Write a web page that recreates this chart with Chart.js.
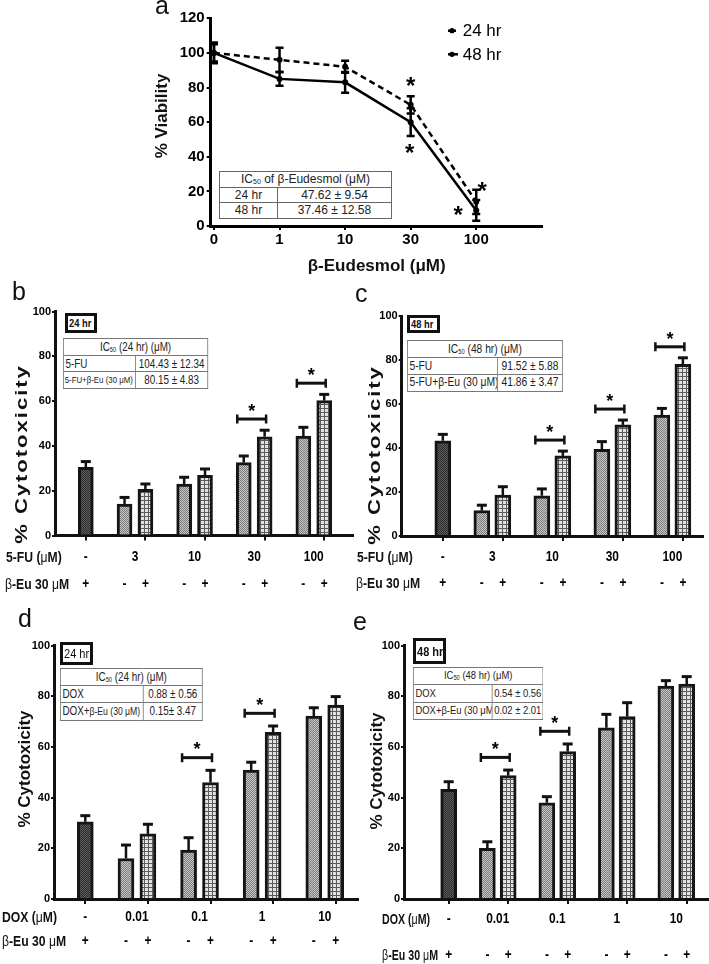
<!DOCTYPE html>
<html><head><meta charset="utf-8">
<script src="https://cdn.jsdelivr.net/npm/chart.js@4.4.1/dist/chart.umd.min.js"></script>
<style>
html,body{margin:0;padding:0;background:#fff;}
#root{position:relative;width:709px;height:964px;overflow:hidden;font-family:'Liberation Sans',Arial,sans-serif;color:#111;}
canvas{position:absolute;}
.t{position:absolute;line-height:1;white-space:nowrap;}
.c{transform:translate(-50%,-50%);}
.l{transform:translate(0,-50%) scaleX(0.87);transform-origin:left center;}
.l.tight{transform:translate(0,-50%) scaleX(0.76);}
.rot{transform:translate(-50%,-50%) rotate(-90deg);font-weight:bold;font-size:17px;}
.rot.wide{transform:translate(-50%,-50%) rotate(-90deg) scaleX(1.3);letter-spacing:1.5px;}
.letter{font-size:25px;}
.nb{font-weight:bold;font-size:14px;}
.nb .s{font-weight:normal;}
table.ic{position:absolute;border-collapse:collapse;table-layout:fixed;background:#fff;transform:scaleX(0.82);transform-origin:left top;}
table.ic td{border:1px solid #777;padding:0 2px;line-height:1;color:#222;white-space:nowrap;overflow:hidden;}
table.ic sub{font-size:7px;vertical-align:-1px;line-height:0;}
table.ia{position:absolute;border-collapse:collapse;table-layout:fixed;background:#fff;}
table.ia td{border:1px solid #666;padding:0 2px;line-height:1;color:#222;white-space:nowrap;overflow:hidden;}
table.ia sub{font-size:7px;vertical-align:-1px;line-height:0;}
.box{position:absolute;border:3px solid #111;box-sizing:border-box;font-weight:bold;display:flex;align-items:center;padding-left:1px;background:#fff;line-height:1;white-space:nowrap;overflow:hidden;}
.sx{display:inline-block;transform:scaleX(0.85);transform-origin:left center;}
</style>
</head><body><div id="root">
<canvas id="cA" width="420" height="300" style="left:140px;top:0px;width:420px;height:300px"></canvas>
<canvas id="cB" width="360" height="300" style="left:0px;top:300px;width:360px;height:300px"></canvas>
<canvas id="cC" width="359" height="300" style="left:350px;top:300px;width:359px;height:300px"></canvas>
<canvas id="cD" width="360" height="349" style="left:0px;top:615px;width:360px;height:349px"></canvas>
<canvas id="cE" width="359" height="349" style="left:350px;top:615px;width:359px;height:349px"></canvas>

<!-- panel letters -->
<div class="t letter" style="left:155px;top:-7px">a</div>
<div class="t letter" style="left:12px;top:279px">b</div>
<div class="t letter" style="left:355px;top:281px">c</div>
<div class="t letter" style="left:18px;top:606px">d</div>
<div class="t letter" style="left:353px;top:609px">e</div>

<!-- axis titles -->
<div class="t rot" style="left:160.5px;top:116px">% Viability</div>
<div class="t c" style="left:376.7px;top:265px;font-weight:bold;font-size:17px">β-Eudesmol (μM)</div>
<div class="t rot wide" style="left:21px;top:453.5px">% Cytotoxicity</div>
<div class="t rot wide" style="left:373.5px;top:454.5px">% Cytotoxicity</div>
<div class="t rot" style="left:24px;top:769px">% Cytotoxicity</div>
<div class="t rot" style="left:375.8px;top:770.5px">% Cytotoxicity</div>

<!-- row headers -->
<div class="t l nb" style="left:6px;top:557.3px">5-FU (<span class="s">μ</span>M)</div>
<div class="t l nb" style="left:5px;top:584px"><span class="s">β</span>-Eu 30 <span class="s">μ</span>M</div>
<div class="t l nb" style="left:356.7px;top:557.3px">5-FU (<span class="s">μ</span>M)</div>
<div class="t l nb" style="left:356px;top:583.3px"><span class="s">β</span>-Eu 30 <span class="s">μ</span>M</div>
<div class="t l nb" style="left:2px;top:917.3px">DOX (<span class="s">μ</span>M)</div>
<div class="t l nb" style="left:2px;top:940.7px"><span class="s">β</span>-Eu 30 <span class="s">μ</span>M</div>
<div class="t l tight nb" style="left:382px;top:919px">DOX (<span class="s">μ</span>M)</div>
<div class="t l tight nb" style="left:382px;top:955px"><span class="s">β</span>-Eu 30 <span class="s">μ</span>M</div>

<!-- IC50 tables -->
<table class="ia" style="left:219px;top:171px;width:173px;font-size:12px">
<colgroup><col style="width:58px"><col></colgroup>
<tr style="height:15.5px"><td colspan="2" style="text-align:center">IC<sub>50</sub> of β-Eudesmol (μM)</td></tr>
<tr style="height:15.5px"><td style="text-align:center">24 hr</td><td style="text-align:center">47.62 ± 9.54</td></tr>
<tr style="height:15.5px"><td style="text-align:center">48 hr</td><td style="text-align:center">37.46 ± 12.58</td></tr>
</table>

<div class="box" style="left:65px;top:313px;width:32px;height:20px;font-size:11px"><span class="sx">24 hr</span></div>
<table class="ic" style="left:63px;top:338px;width:177px;font-size:12px">
<colgroup><col style="width:88px"><col></colgroup>
<tr style="height:16.7px"><td colspan="2" style="text-align:center">IC<sub>50</sub> (24 hr) (μM)</td></tr>
<tr style="height:16.7px"><td>5-FU</td><td style="text-align:center">104.43 ± 12.34</td></tr>
<tr style="height:16.7px"><td style="font-size:9.6px;padding:0 1px">5-FU+β-Eu (30 μM)</td><td style="text-align:center">80.15 ± 4.83</td></tr>
</table>

<div class="box" style="left:407px;top:315px;width:33px;height:18px;font-size:11px"><span class="sx">48 hr</span></div>
<table class="ic" style="left:407px;top:340px;width:190px;font-size:12.5px">
<colgroup><col style="width:110px"><col></colgroup>
<tr style="height:16.9px"><td colspan="2" style="text-align:center">IC<sub>50</sub> (48 hr) (μM)</td></tr>
<tr style="height:16.9px"><td>5-FU</td><td style="text-align:center">91.52 ± 5.88</td></tr>
<tr style="height:16.9px"><td>5-FU+β-Eu (30 μM)</td><td style="text-align:center">41.86 ± 3.47</td></tr>
</table>

<div class="box" style="left:60px;top:642px;width:33px;height:23px;font-size:13px;font-weight:normal"><span class="sx">24 hr</span></div>
<table class="ic" style="left:60px;top:668px;width:174px;font-size:12px">
<colgroup><col style="width:101px"><col></colgroup>
<tr style="height:17.2px"><td colspan="2" style="text-align:center">IC<sub>50</sub> (24 hr) (μM)</td></tr>
<tr style="height:17.2px"><td>DOX</td><td style="text-align:center">0.88 ± 0.56</td></tr>
<tr style="height:17.2px"><td>DOX+<span style="font-size:10.5px">β-Eu (30 μM)</span></td><td style="text-align:center">0.15± 3.47</td></tr>
</table>

<div class="box" style="left:413px;top:638px;width:33px;height:26px;font-size:13px"><span class="sx">48 hr</span></div>
<table class="ic" style="left:413px;top:667px;width:159px;font-size:11.5px">
<colgroup><col style="width:96px"><col></colgroup>
<tr style="height:17.4px"><td colspan="2" style="text-align:center">IC<sub>50</sub> (48 hr) (μM)</td></tr>
<tr style="height:17.4px"><td>DOX</td><td style="text-align:center">0.54 ± 0.56</td></tr>
<tr style="height:17.4px"><td>DOX+β-Eu (30 μM)</td><td style="text-align:center">0.02 ± 2.01</td></tr>
</table>
</div>

<script>
// ---------- DATA ----------
// Panel a: viability
const doseA = ['0', '1', '10', '30', '100'];
const via24 = [100, 96, 92, 70, 14];
const err24 = [6, 7, 3.5, 5, 7];
const via48 = [100, 85, 83, 60, 9];
const err48 = [5, 4, 6, 8, 6];
const seriesA = ['24 hr', '48 hr'];

// Panels b, c: 5-FU
const fuDoses = ['-', '3', '10', '30', '100'];
const ctrlB = 30.4, ctrlErrB = 2.6;
const fuB = [14, 23, 32.5, 44.4];
const fuErrB = [3, 3, 3, 3.9];
const fuEuB = [20.6, 26.9, 44.1, 60.2];
const fuEuErrB = [2.4, 2.8, 2.9, 2.8];
const sigB = [false, false, true, true];

const ctrlC = 43.3, ctrlErrC = 2.9;
const fuC = [11.5, 18.3, 39.4, 55];
const fuErrC = [2.5, 3.1, 3.5, 3];
const fuEuC = [18.6, 36.4, 50.5, 78];
const fuEuErrC = [3.8, 2.2, 2.2, 3];
const sigC = [false, true, true, true];

// Panels d, e: DOX
const doxDoses = ['-', '0.01', '0.1', '1', '10'];
const ctrlD = 30.5, ctrlErrD = 2.4;
const doxD = [16, 19.3, 50.9, 72.2];
const doxErrD = [5.3, 4.9, 3.1, 3.3];
const doxEuD = [25.7, 46, 65.8, 76.6];
const doxEuErrD = [3.8, 4.8, 2.5, 3.3];
const sigD = [false, true, true, false];

const ctrlE = 43.3, ctrlErrE = 3;
const doxE = [20, 38, 67.6, 84.1];
const doxErrE = [2.6, 2.4, 5.3, 2.1];
const doxEuE = [48.7, 58.2, 72, 84.8];
const doxEuErrE = [2.2, 3, 5.5, 3];
const sigE = [true, true, false, false];

const yTicksBar = [0, 20, 40, 60, 80, 100];

// ---------- STYLE HELPERS ----------
const ARIAL = "'Liberation Sans',Arial,sans-serif";
Chart.defaults.font.family = ARIAL;
Chart.defaults.color = '#000';

function pat(tile) {
  const c = document.createElement('canvas');
  c.width = tile[0].length; c.height = tile.length;
  const x = c.getContext('2d');
  tile.forEach((row, r) => row.forEach((col, k) => { x.fillStyle = col; x.fillRect(k, r, 1, 1); }));
  return x.createPattern(c, 'repeat');
}
const D1 = '#2f2f2f', D2 = '#5a5a5a';
const patCtrl = pat([[D1, D2], [D2, D1]]);
const M1 = '#7c7c7c', M2 = '#c6c6c6';
const patMinus = pat([[M1, M2], [M2, M1]]);
const P1 = '#5c5c5c', P2 = '#e2e2e2';
const patPlus = pat([[P1, P1, P1, P1], [P1, P2, P2, P2], [P1, P2, P2, P2], [P1, P2, P2, P2]]);

function star(ctx, x, y, size) {
  ctx.save();
  ctx.font = 'bold ' + size + 'px ' + ARIAL;
  ctx.fillStyle = '#000';
  ctx.textAlign = 'center';
  ctx.textBaseline = 'alphabetic';
  ctx.fillText('*', x, y + 0.57 * size);
  ctx.restore();
}
function narrowText(ctx, txt, x, y) {
  ctx.save();
  ctx.translate(x, y);
  ctx.scale(0.85, 1);
  ctx.fillText(txt, 0, 0);
  ctx.restore();
}

// ---------- PANEL A ----------
const lineErr = {
  id: 'lineErr',
  afterDatasetsDraw(chart) {
    const ctx = chart.ctx, y = chart.scales.y;
    chart.data.datasets.forEach((ds, di) => {
      chart.getDatasetMeta(di).data.forEach((pt, i) => {
        const v = ds.data[i].y, e = ds.err[i];
        const y1 = y.getPixelForValue(v + e), y2 = y.getPixelForValue(v - e);
        ctx.save();
        ctx.strokeStyle = '#000'; ctx.lineWidth = 2.5; ctx.setLineDash([]);
        ctx.beginPath();
        ctx.moveTo(pt.x, y1); ctx.lineTo(pt.x, y2);
        ctx.moveTo(pt.x - 4, y1); ctx.lineTo(pt.x + 4, y1);
        ctx.moveTo(pt.x - 4, y2); ctx.lineTo(pt.x + 4, y2);
        ctx.stroke();
        ctx.restore();
      });
    });
  }
};
const extrasA = {
  id: 'extrasA',
  afterDraw(chart) {
    const ctx = chart.ctx, x = chart.scales.x, y = chart.scales.y;
    star(ctx, x.getPixelForValue(3), y.getPixelForValue(via24[3] + err24[3]) - 16, 24);
    star(ctx, x.getPixelForValue(3) - 1, y.getPixelForValue(via48[3] - err48[3]) + 11, 24);
    star(ctx, x.getPixelForValue(4) + 6, y.getPixelForValue(via24[4] + err24[4]) - 4, 24);
    star(ctx, x.getPixelForValue(4) - 18, y.getPixelForValue(via48[4]) - 1, 24);
    const items = [[seriesA[0], [3, 2], 30.7], [seriesA[1], [], 54.3]];
    items.forEach(([txt, dash, yy]) => {
      ctx.save();
      ctx.strokeStyle = '#000'; ctx.lineWidth = 2.5; ctx.setLineDash(dash);
      ctx.beginPath(); ctx.moveTo(308, yy); ctx.lineTo(318, yy); ctx.stroke();
      ctx.setLineDash([]);
      ctx.fillStyle = '#000';
      ctx.beginPath(); ctx.arc(312, yy, 2.6, 0, Math.PI * 2); ctx.fill();
      ctx.font = '17px ' + ARIAL; ctx.textAlign = 'left'; ctx.textBaseline = 'middle';
      ctx.fillText(txt, 322.7, yy + 1);
      ctx.restore();
    });
  }
};
new Chart(document.getElementById('cA'), {
  type: 'line',
  data: {
    datasets: [
      { label: seriesA[0], data: via24.map((v, i) => ({ x: i, y: v })), err: err24, borderColor: '#000', borderWidth: 2.5, borderDash: [6, 4], pointRadius: 3, pointBackgroundColor: '#000', pointBorderWidth: 0, tension: 0 },
      { label: seriesA[1], data: via48.map((v, i) => ({ x: i, y: v })), err: err48, borderColor: '#000', borderWidth: 2.5, pointRadius: 3, pointBackgroundColor: '#000', pointBorderWidth: 0, tension: 0 }
    ]
  },
  options: {
    responsive: false, animation: false, devicePixelRatio: 1,
    layout: { padding: { top: 18.3, right: 18.2, left: 0, bottom: 0 } },
    plugins: { legend: { display: false }, tooltip: { enabled: false } },
    scales: {
      x: {
        type: 'linear', min: -0.05, max: 5, offset: false,
        afterBuildTicks: s => { s.ticks = doseA.map((_, i) => ({ value: i })); },
        ticks: { callback: v => doseA[v], font: { weight: 'bold', size: 15 }, color: '#000', padding: 1, maxRotation: 0, autoSkip: false },
        grid: { drawOnChartArea: false, tickLength: 4, color: '#000', lineWidth: 2, offset: false },
        border: { color: '#000', width: 3 },
        afterFit: s => { s.height = 74; }
      },
      y: {
        min: 0, max: 120,
        ticks: { stepSize: 20, font: { weight: 'bold', size: 15 }, color: '#000', padding: 2 },
        grid: { drawOnChartArea: false, tickLength: 4, color: '#000', lineWidth: 2 },
        border: { color: '#000', width: 3 },
        afterFit: s => { s.width = 70.7; }
      }
    }
  },
  plugins: [lineErr, extrasA]
});

// ---------- BAR PANELS ----------
const OFF = 0.35;
function barPanel(id, P) {
  const mk = (data, err, bg) => ({ data, err, backgroundColor: bg, borderColor: '#151515', borderWidth: 3, grouped: false, barThickness: P.barW });
  const datasets = [
    mk([{ x: 0, y: P.ctrl }], [P.ctrlErr], patCtrl),
    mk(P.minus.map((v, i) => ({ x: i + 1 - OFF, y: v })), P.minusErr, patMinus),
    mk(P.plus.map((v, i) => ({ x: i + 1, y: v })), P.plusErr, patPlus)
  ];
  const deco = {
    id: 'deco',
    afterDatasetsDraw(chart) {
      const ctx = chart.ctx, xs = chart.scales.x, ys = chart.scales.y;
      ctx.save();
      ctx.strokeStyle = '#111'; ctx.setLineDash([]);
      chart.data.datasets.forEach((ds, di) => {
        chart.getDatasetMeta(di).data.forEach((el, i) => {
          const v = ds.data[i].y, e = ds.err[i];
          const yt = ys.getPixelForValue(v + e);
          ctx.lineWidth = 2.5;
          ctx.beginPath(); ctx.moveTo(el.x, el.y); ctx.lineTo(el.x, yt); ctx.stroke();
          ctx.lineWidth = 3;
          ctx.beginPath(); ctx.moveTo(el.x - 5, yt); ctx.lineTo(el.x + 5, yt); ctx.stroke();
        });
      });
      P.sig.forEach((s, k) => {
        if (!s) return;
        const g = k + 1;
        const top = Math.max(P.minus[k] + P.minusErr[k], P.plus[k] + P.plusErr[k]) + 5;
        const py = ys.getPixelForValue(top);
        const x1 = xs.getPixelForValue(g - OFF) - 6.5, x2 = xs.getPixelForValue(g) + 1.5;
        ctx.lineWidth = 3;
        ctx.beginPath(); ctx.moveTo(x1, py); ctx.lineTo(x2, py); ctx.stroke();
        ctx.lineWidth = 2.5;
        ctx.beginPath(); ctx.moveTo(x1, py - 4.5); ctx.lineTo(x1, py + 4.5); ctx.moveTo(x2, py - 4.5); ctx.lineTo(x2, py + 4.5); ctx.stroke();
        star(ctx, (x1 + x2) / 2, py - 12.5, 18);
      });
      ctx.fillStyle = '#000';
      ctx.font = 'bold 14px ' + ARIAL;
      ctx.textAlign = 'center'; ctx.textBaseline = 'middle';
      P.groups.forEach((lab, g) => {
        const gx = g === 0 ? xs.getPixelForValue(0) : xs.getPixelForValue(g - OFF / 2);
        narrowText(ctx, lab, gx, P.rows[0]);
        if (g === 0) {
          narrowText(ctx, '+', xs.getPixelForValue(0), P.rows[1]);
        } else {
          narrowText(ctx, '-', xs.getPixelForValue(g - OFF), P.rows[1]);
          narrowText(ctx, '+', xs.getPixelForValue(g), P.rows[1]);
        }
      });
      ctx.restore();
    }
  };
  new Chart(document.getElementById(id), {
    type: 'bar',
    data: { datasets },
    options: {
      responsive: false, animation: false, devicePixelRatio: 1,
      layout: { padding: { top: P.area.top, right: P.w - P.area.right, left: 0, bottom: 0 } },
      plugins: { legend: { display: false }, tooltip: { enabled: false } },
      scales: {
        x: {
          type: 'linear', min: P.xmin, max: P.xmax, offset: false,
          afterBuildTicks: s => { s.ticks = P.groups.map((_, i) => ({ value: i })); },
          ticks: { display: false },
          grid: { drawOnChartArea: false, tickLength: 5, color: '#111', lineWidth: 2, offset: false },
          border: { color: '#111', width: 3 },
          afterFit: s => { s.height = P.h - P.area.bottom; }
        },
        y: {
          min: 0, max: 100,
          afterBuildTicks: s => { s.ticks = yTicksBar.map(v => ({ value: v })); },
          ticks: { font: { weight: 'bold', size: 11 }, color: '#000', padding: 1 },
          grid: { drawOnChartArea: false, tickLength: 3, color: '#111', lineWidth: 2 },
          border: { color: '#111', width: 3 },
          afterFit: s => { s.width = P.area.left; }
        }
      }
    },
    plugins: [deco]
  });
}

barPanel('cB', { ctrl: ctrlB, ctrlErr: ctrlErrB, minus: fuB, minusErr: fuErrB, plus: fuEuB, plusErr: fuEuErrB, sig: sigB, groups: fuDoses,
  xmin: -0.517, xmax: 4.483, w: 360, h: 300, area: { left: 55, right: 353, top: 11.5, bottom: 235.5 }, rows: [257.3, 284], barW: 15 });
barPanel('cC', { ctrl: ctrlC, ctrlErr: ctrlErrC, minus: fuC, minusErr: fuErrC, plus: fuEuC, plusErr: fuEuErrC, sig: sigC, groups: fuDoses,
  xmin: -0.685, xmax: 4.335, w: 359, h: 300, area: { left: 51.7, right: 353, top: 16, bottom: 236 }, rows: [257.3, 283.3], barW: 16 });
barPanel('cD', { ctrl: ctrlD, ctrlErr: ctrlErrD, minus: doxD, minusErr: doxErrD, plus: doxEuD, plusErr: doxEuErrD, sig: sigD, groups: doxDoses,
  xmin: -0.5, xmax: 4.356, w: 360, h: 349, area: { left: 54, right: 358, top: 30.7, bottom: 284 }, rows: [302.3, 325.7], barW: 16 });
barPanel('cE', { ctrl: ctrlE, ctrlErr: ctrlErrE, minus: doxE, minusErr: doxErrE, plus: doxEuE, plusErr: doxEuErrE, sig: sigE, groups: doxDoses,
  xmin: -0.751, xmax: 4.358, w: 359, h: 349, area: { left: 54, right: 358, top: 30.7, bottom: 284 }, rows: [304, 340], barW: 16 });
</script>
</body></html>
